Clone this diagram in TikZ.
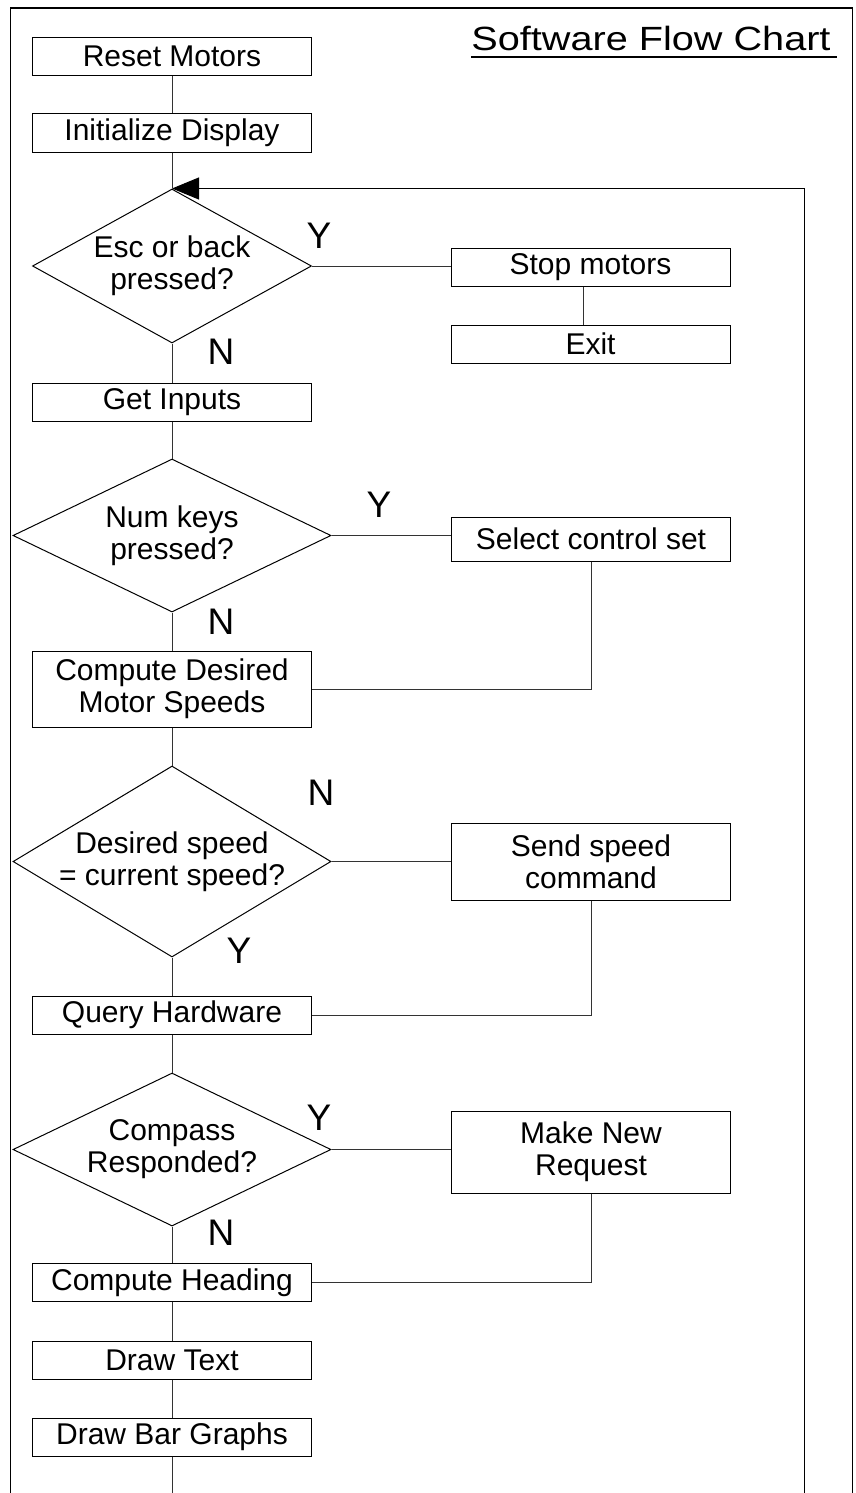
\documentclass[tikz,border=0pt]{standalone}
\usepackage{xcolor}
\usepackage{tikz}
\usepackage{graphicx}
\usepackage{fontspec}
\setmainfont{Liberation Sans}
\usetikzlibrary{shapes.geometric, arrows.meta}

\begin{document}
\begin{tikzpicture}[
  x=0.5pt, y=-0.5pt,
  every node/.style={font=\fontsize{15}{16}\selectfont, align=center},
  box/.style={draw, rectangle, line width=0.5pt, inner sep=0pt, minimum width=139.5pt, minimum height=19pt},
  decision/.style={draw, diamond, line width=0.5pt, inner sep=0pt, minimum width=159pt, minimum height=76.5pt},
  yn/.style={font=\fontsize{18.5}{20}\selectfont},
  link/.style={draw=black!80, line width=0.5pt}
]
\useasboundingbox (0,0) rectangle (856,1493);
\draw[line width=0.9pt] (10.5,1493) |- (852.5,8) -- (852.5,1493);

% title
\node[font=\fontsize{16.8}{20}\selectfont, inner sep=0pt, anchor=base] (title) at (651,51) {\scalebox{1.18}[1]{Software Flow Chart}};
\draw[line width=1pt] ([yshift=-3pt]title.base west) -- ([xshift=3pt,yshift=-3pt]title.base east);

% main column
\node[box] (reset) at (172,56.5) {Reset Motors};
\node[box] (init) at (172,133) {Initialize Display};
\node[decision, minimum width=139.5pt, minimum height=77pt, label={center:Esc or back\\pressed?}] (esc) at (172,266) {};
\node[box] (inputs) at (172,402.5) {Get Inputs};
\node[decision, label={center:Num keys\\pressed?}] (num) at (172,535.5) {};
\node[box, minimum height=38pt] (speeds) at (172,689) {Compute Desired\\Motor Speeds};
\node[decision, minimum height=95.5pt, label={center:Desired speed\\= current speed?}] (speed) at (172,861.5) {};
\node[box] (query) at (172,1015) {Query Hardware};
\node[decision, label={center:Compass\\Responded?}] (compass) at (172,1149.5) {};
\node[box] (heading) at (172,1282.5) {Compute Heading};
\node[box] (drawtext) at (172,1360) {Draw Text};
\node[box] (bars) at (172,1437) {Draw Bar Graphs};

% side branches
\node[box] (stop) at (590.5,267) {Stop motors};
\node[box] (exit) at (590.5,344) {Exit};
\node[box, minimum height=22pt] (select) at (591,539) {Select control set};
\node[box, minimum height=38.5pt] (send) at (591,861.5) {Send speed\\command};
\node[box, minimum height=41pt] (request) at (591,1152) {Make New\\Request};

% answers
\node[yn] (y1) at (319,236) {Y};
\node[yn] (n1) at (221,352) {N};
\node[yn] (y2) at (379,505) {Y};
\node[yn] (n2) at (221,622) {N};
\node[yn] (n3) at (321,793) {N};
\node[yn] (y3) at (239,951) {Y};
\node[yn] (y4) at (319,1118) {Y};
\node[yn] (n4) at (221,1233) {N};

\coordinate (out) at (172,1493);
\coordinate (back) at (804,1493);

% connectors
\draw[link] (reset) -- (init);
\draw[link] (init) -- (esc);
\draw[link] (esc.east) -- (esc.east -| stop.west);
\draw[link] ([xshift=-3.75pt]stop.south) -- ([xshift=-3.75pt]exit.north);
\draw[link] (esc) -- (inputs);
\draw[link] (inputs) -- (num);
\draw[link] (num.east) -- (num.east -| select.west);
\draw[link] (num) -- (speeds);
\draw[link] (select.south) |- (speeds.east);
\draw[link] (speeds) -- (speed);
\draw[link] (speed.east) -- (speed.east -| send.west);
\draw[link] (send.south) |- (query.east);
\draw[link] (speed) -- (query);
\draw[link] (query) -- (compass);
\draw[link] (compass.east) -- (compass.east -| request.west);
\draw[link] (request.south) |- (heading.east);
\draw[link] (compass) -- (heading);
\draw[link] (heading) -- (drawtext);
\draw[link] (drawtext) -- (bars);
\draw[link] (bars) -- (out);
\draw[link, draw=black, -{Triangle[length=13.5pt, width=11pt]}] (back) |- (esc.north);
\end{tikzpicture}
\end{document}
